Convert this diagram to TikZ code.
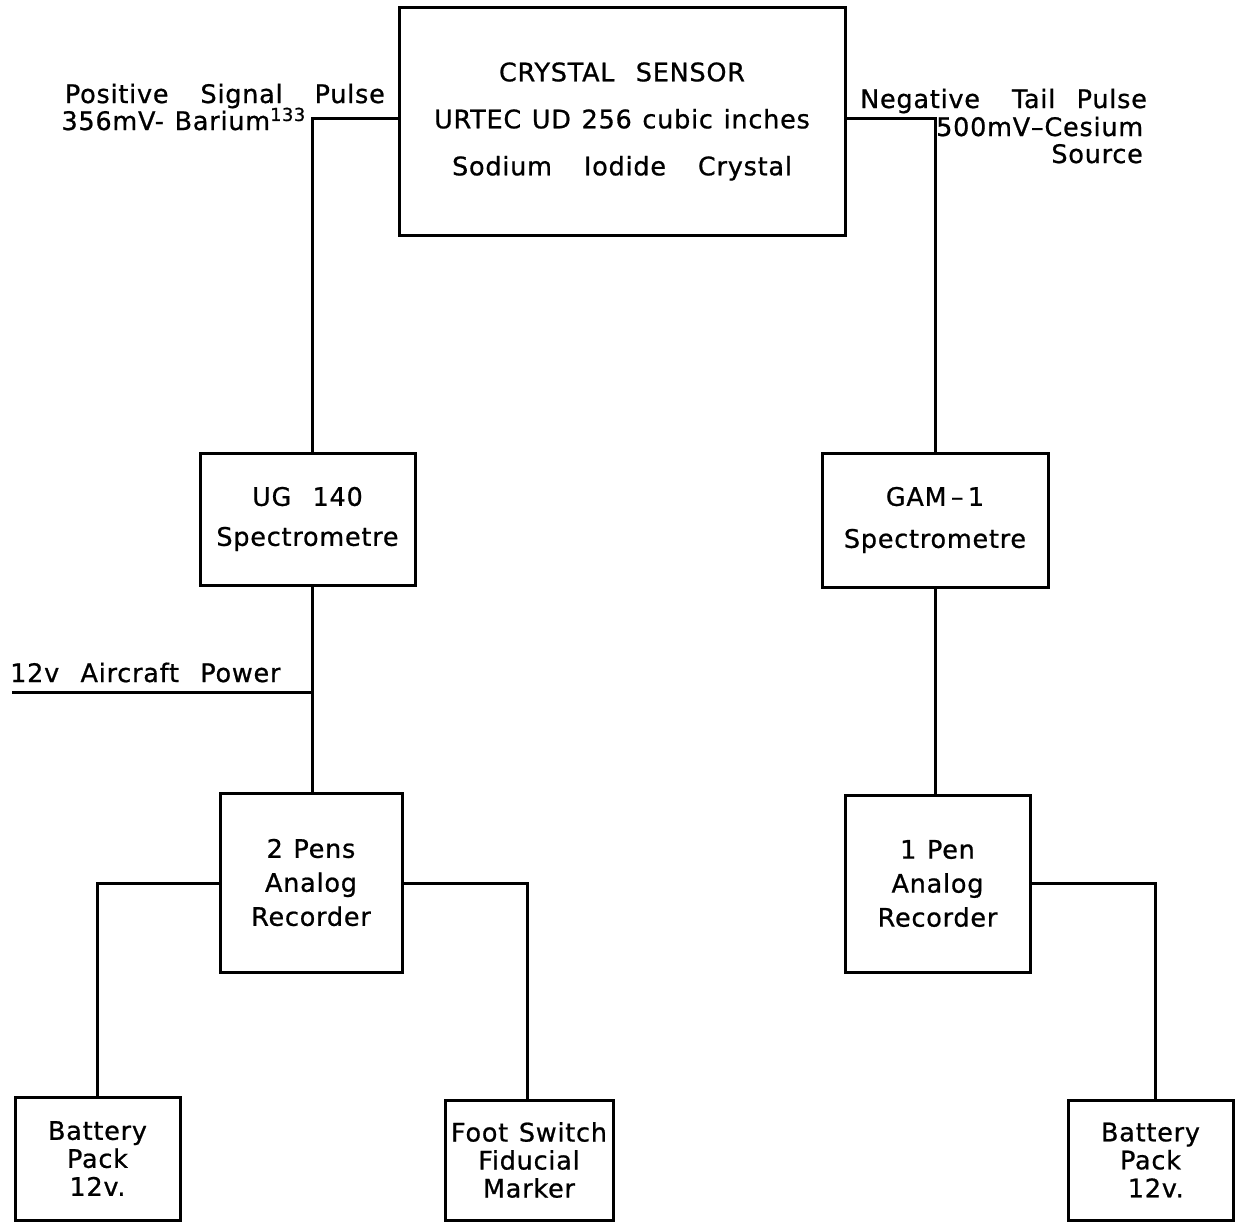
\documentclass[tikz,border=0pt]{standalone}
\usepackage{fontspec}
\setmainfont{DejaVu Sans}[LetterSpace=3,WordSpace=1.2,FakeBold=0.8]
\begin{document}
\begin{tikzpicture}[x=1pt,y=-1pt,
  box/.style={draw,line width=3pt,rectangle,inner sep=0pt,align=center,
    font=\fontsize{25.5}{34}\selectfont},
  lbl/.style={inner sep=0pt,font=\fontsize{25.5}{28}\selectfont},
  wire/.style={line width=3pt}]
\useasboundingbox (0,0) rectangle (1239,1223);
% boxes
\node[box,minimum width=446pt,minimum height=227pt,font=\fontsize{25.5}{47}\selectfont] (crystal) at (622,121.5)
  {CRYSTAL\ \ SENSOR\\URTEC\ UD\ 256\ cubic inches\\Sodium\ \ \ Iodide\ \ \ Crystal};
\node[box,minimum width=215pt,minimum height=132pt,font=\fontsize{25.5}{40}\selectfont] (ug) at (307.5,519) {UG\ \ 140\\Spectrometre};
\node[box,minimum width=226pt,minimum height=134pt,font=\fontsize{25.5}{42}\selectfont] (gam) at (935,520) {GAM\,--\,1\\Spectrometre};
\node[box,minimum width=182pt,minimum height=179pt] (pens) at (311,882.5) {2 Pens\\Analog\\Recorder};
\node[box,minimum width=185pt,minimum height=177pt] (pen) at (937.5,883.5) {1 Pen\\Analog\\Recorder};
\node[box,minimum width=165pt,minimum height=123pt,font=\fontsize{25.5}{28}\selectfont] (bat1) at (97.5,1158.5) {Battery\\Pack\\12v.};
\node[box,minimum width=168pt,minimum height=120pt,font=\fontsize{25.5}{28}\selectfont] (foot) at (529,1160) {Foot Switch\\Fiducial\\Marker};
\node[box,minimum width=165pt,minimum height=120pt,font=\fontsize{25.5}{28}\selectfont] (bat2) at (1150.5,1160) {Battery\\Pack\\\ 12v.};
% labels
\node[lbl,anchor=base east] (pos) at (385,103) {Positive\ \ \ Signal\ \ \ Pulse};
\node[lbl,anchor=base east] (ba) at (306,130) {356mV-\ Barium\textsuperscript{133}};
\node[lbl,anchor=base west] (neg) at (860,108) {Negative\ \ \ Tail\ \ Pulse};
\node[lbl,anchor=base west] (ces) at (936,136) {500mV--Cesium};
\node[lbl,anchor=base east] (src) at (1143,163) {Source};
\node[lbl,anchor=base west] (pwr) at (10,682) {12v\ \ Aircraft\ \ Power};
% connectors
\coordinate (lt) at (312,118);
\coordinate (rt) at (935,118);
\coordinate (pw) at (12,692);
\coordinate (pwj) at (312,692);
\coordinate (lb) at (97,883);
\coordinate (mb) at (527,883);
\coordinate (rb) at (1155,883);
\draw[wire] (crystal.west |- lt) -- (lt) -- (lt |- ug.north);
\draw[wire] (crystal.east |- rt) -- (rt) -- (rt |- gam.north);
\draw[wire] (pwj |- ug.south) -- (pwj |- pens.north);
\draw[wire] (pw) -- (pwj);
\draw[wire] (gam.south) -- (gam.south |- pen.north);
\draw[wire] (pens.west |- lb) -- (lb) -- (lb |- bat1.north);
\draw[wire] (pens.east |- mb) -- (mb) -- (mb |- foot.north);
\draw[wire] (pen.east |- rb) -- (rb) -- (rb |- bat2.north);
\end{tikzpicture}
\end{document}
